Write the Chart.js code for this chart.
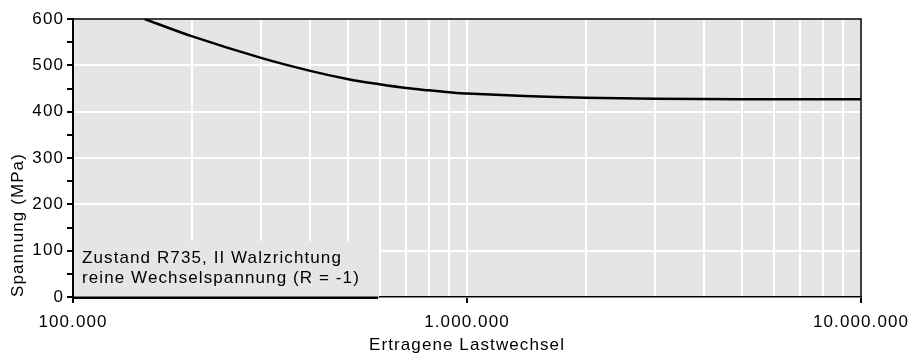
<!DOCTYPE html>
<html>
<head>
<meta charset="utf-8">
<script src="https://cdn.jsdelivr.net/npm/chart.js@4"></script>
<style>
  html, body { margin: 0; padding: 0; background: #fff; }
  #wrap { width: 912px; height: 356px; }
</style>
</head>
<body>
<div id="wrap"><canvas id="woehlerChart" width="912" height="356"></canvas></div>
<script>
// Woehler curve
const cycles = [152000, 200000, 300000, 400000, 500000, 600000, 700000, 800000, 900000, 1000000, 1400000, 2000000, 3000000, 5000000, 10000000];
const stress = [600, 563, 516, 488, 470, 459, 451, 446, 442, 439, 434, 430, 428, 427, 427];
const noteLines = ['Zustand R735, II Walzrichtung', 'reine Wechselspannung (R = -1)'];

const FONT = 'Liberation Sans, Arial, sans-serif';
const SPACING = '1.1px';
const isDecade = v => Math.abs(Math.log10(v) - Math.round(Math.log10(v))) < 1e-9;
const fmt = v => String(Math.round(v)).replace(/\B(?=(\d{3})+(?!\d))/g, '.');

// grey plot background, frame and note box
const frame = {
  id: 'frame',
  beforeLayout(chart) { chart.ctx.letterSpacing = SPACING; },
  beforeDraw(chart) {
    const { ctx, chartArea: a } = chart;
    ctx.letterSpacing = SPACING;
    ctx.save();
    ctx.fillStyle = '#e5e5e5';
    ctx.fillRect(a.left, a.top, a.right - a.left, a.bottom - a.top);
    ctx.restore();
  },
  afterDatasetsDraw(chart) {
    const { ctx, chartArea: a } = chart;
    ctx.save();
    // note box
    ctx.fillStyle = '#e5e5e5';
    ctx.fillRect(a.left + 1, a.bottom - 56, 305, 56);
    ctx.fillStyle = '#000';
    ctx.font = '17px ' + FONT;
    ctx.textBaseline = 'alphabetic';
    ctx.fillText(noteLines[0], a.left + 9, a.bottom - 34);
    ctx.fillText(noteLines[1], a.left + 9, a.bottom - 14);
    ctx.fillRect(a.left, a.bottom - 0.5, 305, 2.5);
    // frame top + right
    ctx.strokeStyle = '#000';
    ctx.lineWidth = 1.5;
    ctx.beginPath();
    ctx.moveTo(a.left, a.top);
    ctx.lineTo(a.right, a.top);
    ctx.lineTo(a.right, a.bottom);
    ctx.stroke();
    ctx.restore();
  }
};

new Chart(document.getElementById('woehlerChart').getContext('2d'), {
  type: 'line',
  data: {
    datasets: [{
      data: cycles.map((c, i) => ({ x: c, y: stress[i] })),
      borderColor: '#000',
      borderWidth: 2.5,
      pointRadius: 0,
      tension: 0.3,
      fill: false
    }]
  },
  options: {
    responsive: false,
    animation: false,
    layout: { padding: { top: 19, right: 51, left: 0, bottom: 0 } },
    plugins: { legend: { display: false }, tooltip: { enabled: false } },
    scales: {
      x: {
        type: 'logarithmic',
        min: 100000,
        max: 10000000,
        afterBuildTicks: s => {
          const t = [];
          for (let e = 5; e < 7; e++) for (let m = 1; m < 10; m++) t.push({ value: m * Math.pow(10, e) });
          t.push({ value: 10000000 });
          s.ticks = t;
        },
        afterFit: s => { s.height = 59; s.paddingLeft = 0; s.paddingRight = 0; },
        grid: {
          color: '#fff',
          lineWidth: 2,
          tickLength: 6,
          tickColor: c => (c.tick && isDecade(c.tick.value)) ? '#000' : 'rgba(0,0,0,0)',
          tickWidth: 2
        },
        border: { color: '#000', width: 1.5 },
        ticks: {
          autoSkip: false,
          maxRotation: 0,
          padding: 9,
          color: '#000',
          font: { size: 17, family: FONT },
          callback: v => isDecade(v) ? fmt(v) : ''
        },
        title: {
          display: true,
          text: 'Ertragene Lastwechsel',
          color: '#000',
          font: { size: 17, family: FONT },
          padding: { top: 0, bottom: 0 }
        }
      },
      y: {
        min: 0,
        max: 600,
        afterFit: s => { s.width = 73; },
        ticks: {
          stepSize: 50,
          autoSkip: false,
          padding: 3,
          color: '#000',
          font: { size: 17, family: FONT },
          callback: v => v % 100 === 0 ? v : ''
        },
        grid: {
          color: c => (c.tick && c.tick.value % 100 === 0) ? '#fff' : 'rgba(0,0,0,0)',
          lineWidth: 2,
          tickLength: 6,
          tickColor: '#000',
          tickWidth: 2
        },
        border: { color: '#000', width: 2 },
        title: {
          display: true,
          text: 'Spannung (MPa)',
          align: 'start',
          color: '#000',
          font: { size: 17, family: FONT },
          padding: { top: 8, bottom: 0 }
        }
      }
    }
  },
  plugins: [frame]
});
</script>
</body>
</html>
